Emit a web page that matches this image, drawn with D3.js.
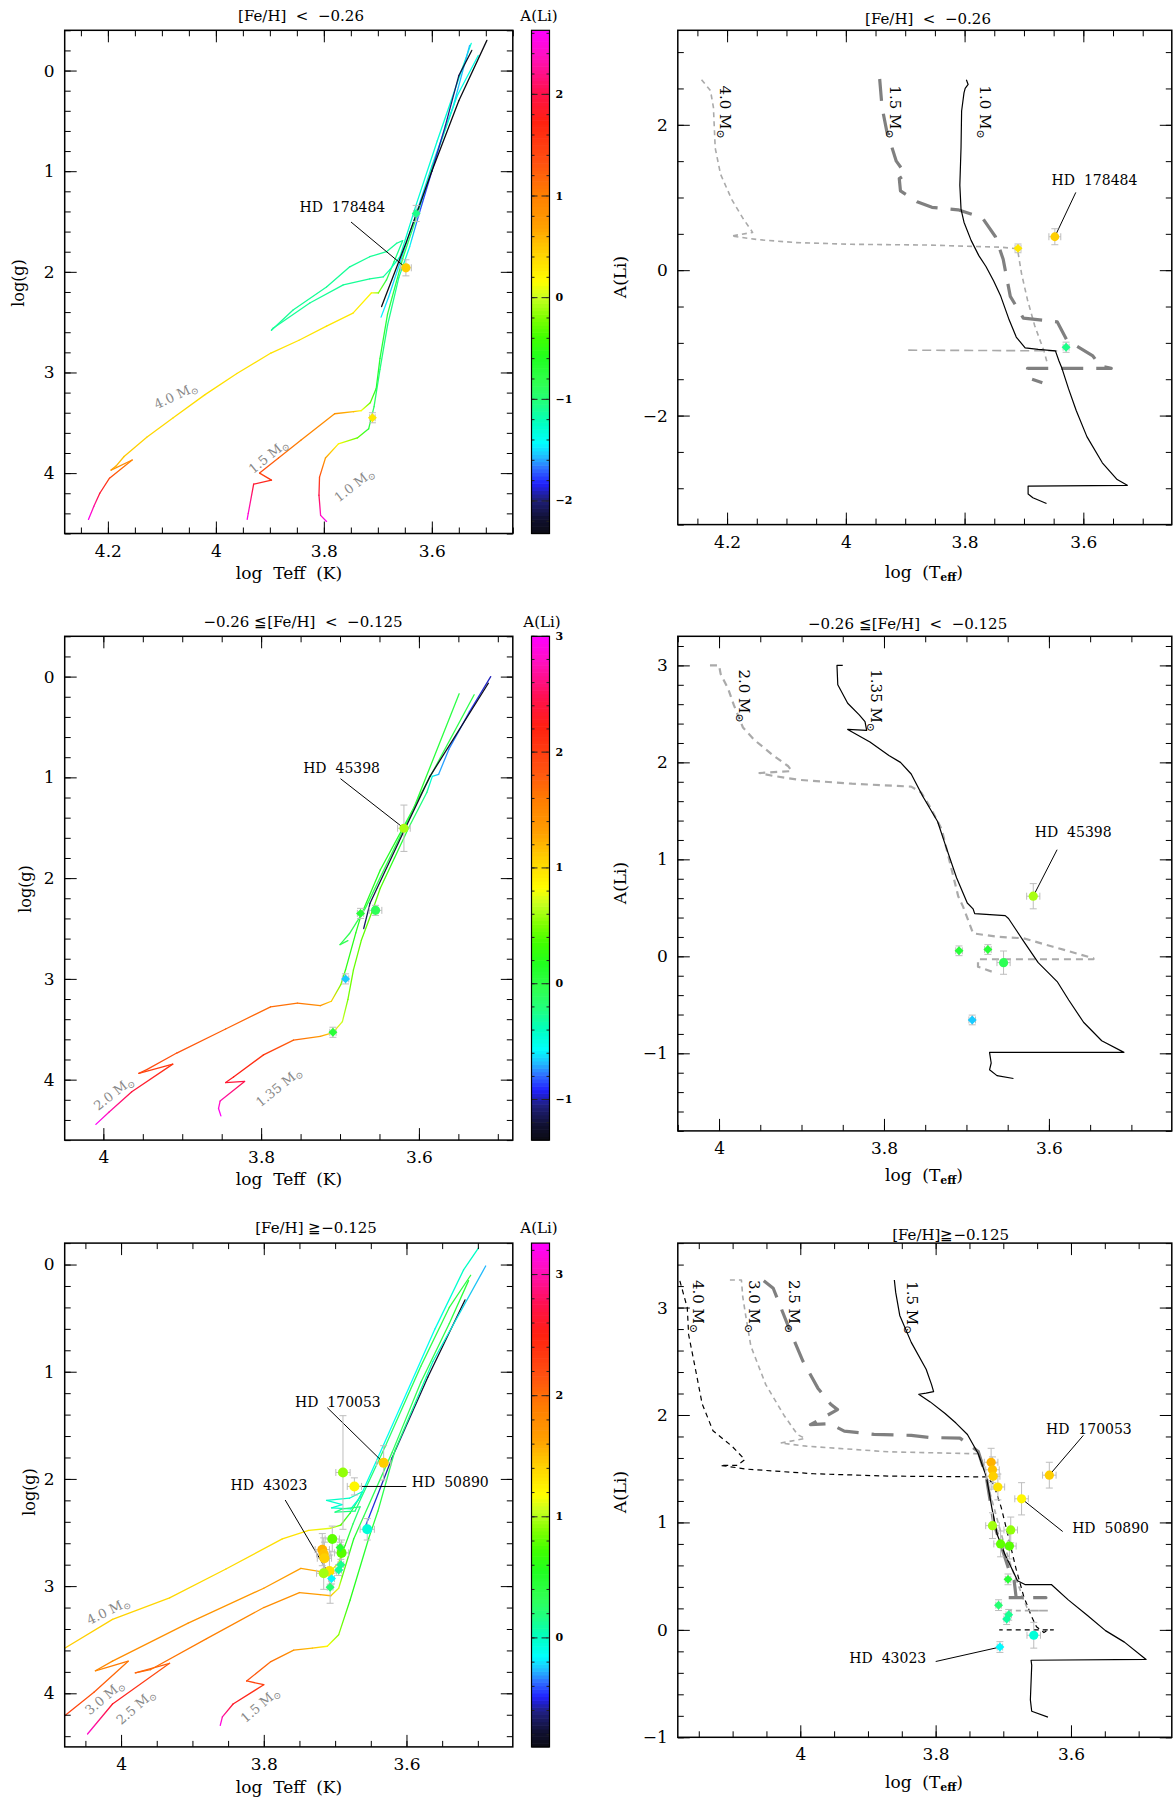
<!DOCTYPE html>
<html><head><meta charset="utf-8">
<script src="https://cdn.jsdelivr.net/npm/d3@7"></script>
<style>body{margin:0;background:#fff}svg{display:block}</style>
</head><body><svg id="fig" width="1176" height="1803"></svg>
<script>
// ---------------- data ----------------
// HR-diagram tracks: [log Teff, log g, A(Li)]
const hrLow40 = [[4.236,4.46,2.6],[4.226,4.33,2.3],[4.215,4.20,1.9],[4.197,4.05,1.4],[4.155,3.87,0.95],[4.194,3.97,0.8],[4.185,3.93,0.6],[4.170,3.835,0.5],[4.128,3.644,0.42],[4.079,3.45,0.38],[4.020,3.22,0.36],[3.961,3.01,0.35],[3.898,2.807,0.34],[3.846,2.68,0.33],[3.795,2.54,0.32],[3.746,2.41,0.30],[3.712,2.21,0.2],[3.699,2.21,-0.2],[3.684,2.08,-0.8],[3.670,1.90,-1.0],[3.654,1.69,-1.1],[3.665,1.716,-1.1],[3.684,1.80,-1.1],[3.715,1.85,-1.1],[3.752,1.95,-1.1],[3.795,2.15,-1.1],[3.857,2.38,-1.1],[3.897,2.58,-1.1],[3.894,2.56,-1.1],[3.826,2.31,-1.1],[3.764,2.13,-1.1],[3.715,2.07,-1.1],[3.690,2.05,-1.1],[3.678,1.98,-1.2],[3.659,1.85,-1.25],[3.630,1.35,-1.3],[3.590,0.70,-1.3],[3.545,0.0,-1.3],[3.527,-0.27,-1.3]];
const hrLow15 = [[3.942,4.46,2.6],[3.940,4.40,2.45],[3.930,4.11,1.9],[3.897,4.07,1.6],[3.919,4.00,1.4],[3.884,3.85,1.2],[3.842,3.67,1.0],[3.780,3.41,0.85],[3.745,3.39,0.55],[3.731,3.38,0.15],[3.714,3.30,-0.3],[3.703,3.16,-0.6],[3.696,2.86,-0.7],[3.682,2.42,-0.72],[3.654,1.87,-0.8],[3.628,1.45,-0.96],[3.599,0.95,-1.1],[3.553,0.25,-1.35],[3.514,-0.15,-1.35]];
const hrLow15He = [[3.694,2.45,-1.45],[3.680,2.25,-1.5],[3.640,1.60,-1.55],[3.600,0.95,-1.55],[3.560,0.35,-1.55],[3.530,-0.25,-1.55]];
const hrLow10 = [[3.795,4.48,2.6],[3.806,4.42,2.4],[3.809,4.22,2.0],[3.808,4.04,1.4],[3.797,3.85,0.7],[3.773,3.71,0.2],[3.738,3.65,-0.3],[3.717,3.56,-0.7],[3.707,3.34,-0.9],[3.696,2.97,-1.0],[3.682,2.53,-1.05],[3.661,2.055,-1.1],[3.641,1.75,-1.4],[3.625,1.45,-1.7],[3.600,1.0,-1.85],[3.575,0.55,-1.95],[3.550,0.05,-2.1],[3.526,-0.2,-2.5]];
const hrLow10He = [[3.693,2.345,-3.0],[3.647,1.70,-3.0],[3.600,1.00,-3.0],[3.550,0.30,-3.0],[3.498,-0.30,-3.0]];

const hrMid20 = [[4.0095,4.444,3.0],[3.993,4.323,2.75],[3.964,4.121,2.4],[3.912,3.846,2.05],[3.955,3.938,1.95],[3.945,3.90,1.9],[3.907,3.736,1.85],[3.845,3.497,1.75],[3.788,3.277,1.7],[3.754,3.240,1.65],[3.725,3.266,1.45],[3.711,3.222,1.1],[3.699,3.057,0.5],[3.693,2.91,0.25],[3.680,2.543,0.2],[3.673,2.36,0.2],[3.649,1.919,0.19],[3.606,1.295,0.1],[3.549,0.17,-0.02]];
const hrMid20He = [[3.690,2.62,-0.05],[3.700,2.66,-0.05],[3.688,2.55,-0.05],[3.668,2.30,-0.05],[3.600,1.20,-0.03],[3.530,0.18,-0.03]];
const hrMid135 = [[3.851,4.36,3.0],[3.854,4.286,2.9],[3.852,4.213,2.75],[3.821,4.018,2.45],[3.845,4.029,2.35],[3.835,3.974,2.25],[3.797,3.754,2.05],[3.759,3.607,1.75],[3.725,3.571,1.35],[3.709,3.534,1.0],[3.697,3.424,0.7],[3.690,3.204,0.5],[3.683,2.910,0.45],[3.673,2.617,0.43],[3.659,2.323,0.42],[3.649,2.10,0.39],[3.631,1.80,0.16],[3.613,1.50,-0.06],[3.590,1.15,-0.26],[3.583,0.99,-0.5],[3.575,0.97,-0.7],[3.562,0.72,-0.75],[3.536,0.35,-0.87],[3.509,0.0,-0.99]];
const hrMid135He = [[3.670,2.50,-1.10],[3.662,2.25,-1.17],[3.620,1.55,-1.25],[3.586,0.99,-1.3],[3.512,0.066,-1.3]];

const hrHigh40 = [[4.079,3.58,1.45],[4.012,3.31,1.42],[3.932,3.11,1.40],[3.853,2.84,1.38],[3.774,2.56,1.35],[3.737,2.48,1.30],[3.706,2.46,1.10],[3.692,2.43,0.80],[3.679,2.32,0.45],[3.668,2.20,0.20],[3.662,2.12,0.05],[3.680,2.18,0.0],[3.712,2.20,0.0],[3.690,2.24,-0.05],[3.705,2.27,0.0],[3.678,2.28,-0.05],[3.665,2.17,-0.05],[3.640,1.80,-0.1],[3.600,1.20,-0.15],[3.560,0.60,-0.1],[3.520,0.05,0.0],[3.499,-0.155,0.0]];
const hrHigh30 = [[4.079,4.21,2.3],[4.038,3.99,2.15],[3.990,3.70,1.95],[4.036,3.79,1.85],[4.012,3.70,1.80],[3.906,3.345,1.75],[3.800,3.02,1.70],[3.748,2.835,1.65],[3.716,2.87,1.55],[3.706,2.86,1.35],[3.695,2.78,1.0],[3.686,2.62,0.6],[3.675,2.42,0.3],[3.665,2.26,0.2],[3.690,2.28,0.18],[3.700,2.31,0.18],[3.672,2.30,0.18],[3.630,1.70,0.25],[3.580,0.95,0.35],[3.540,0.40,0.4],[3.510,0.10,0.4]];
const hrHigh25 = [[4.047,4.38,3.1],[4.012,4.10,2.6],[3.932,3.72,2.1],[3.980,3.81,2.05],[3.959,3.78,2.0],[3.880,3.49,1.9],[3.800,3.20,1.8],[3.750,3.06,1.75],[3.721,3.08,1.65],[3.706,3.09,1.5],[3.695,3.02,1.1],[3.690,2.91,0.8],[3.674,2.56,0.5],[3.660,2.35,0.35],[3.620,1.75,0.3],[3.580,1.10,0.35],[3.540,0.55,0.4],[3.513,0.15,0.45]];
const hrHigh15 = [[3.861,4.30,3.2],[3.858,4.22,3.0],[3.843,4.10,2.6],[3.800,3.92,2.3],[3.824,3.885,2.2],[3.790,3.704,2.0],[3.758,3.597,1.7],[3.732,3.579,1.5],[3.711,3.561,1.2],[3.695,3.453,0.9],[3.679,3.13,0.6],[3.653,2.556,0.45],[3.640,2.30,0.42],[3.616,1.73,0.25],[3.563,0.905,0.0],[3.489,0.014,-0.27]];
const hrHigh15He = [[3.658,2.45,-0.45],[3.620,1.80,-0.6],[3.570,1.05,-0.8],[3.518,0.33,-0.85]];

// A(Li) tracks: [log Teff, A(Li)]
const liLow40 = [[4.243,2.62],[4.228,2.47],[4.223,2.24],[4.220,1.68],[4.211,1.32],[4.192,0.97],[4.173,0.71],[4.157,0.52],[4.193,0.47],[4.148,0.42],[4.085,0.38],[3.990,0.356],[3.864,0.346],[3.738,0.316],[3.711,0.295],[3.704,-0.05],[3.694,-0.41],[3.682,-0.76],[3.666,-1.12],[3.660,-1.30]];
const liLow40Loop = [[3.644,-1.11],[3.900,-1.10]];
const liLow15 = [[3.943,2.63],[3.939,2.24],[3.931,1.91],[3.915,1.50],[3.899,1.32],[3.910,1.26],[3.908,1.09],[3.880,0.94],[3.855,0.865],[3.811,0.83],[3.770,0.72],[3.748,0.46],[3.735,0.15],[3.723,-0.36],[3.701,-0.66],[3.644,-0.71],[3.628,-0.96],[3.584,-1.18],[3.571,-1.32],[3.553,-1.35],[3.694,-1.35],[3.694,-1.48],[3.669,-1.55]];
const liLow10 = [[3.797,2.62],[3.794,2.555],[3.799,2.50],[3.801,2.44],[3.805,2.19],[3.806,1.68],[3.808,1.17],[3.806,0.84],[3.801,0.66],[3.789,0.41],[3.776,0.20],[3.764,0.05],[3.751,-0.15],[3.739,-0.36],[3.726,-0.66],[3.713,-0.92],[3.698,-1.07],[3.676,-1.09],[3.647,-1.11],[3.641,-1.25],[3.636,-1.35],[3.625,-1.63],[3.612,-1.93],[3.594,-2.29],[3.568,-2.65],[3.543,-2.88],[3.526,-2.96],[3.693,-2.97],[3.693,-3.08],[3.685,-3.13],[3.662,-3.21]];

const liMid20 = [[4.011,3.0],[4.0,3.0],[3.998,2.91],[3.989,2.76],[3.982,2.59],[3.971,2.36],[3.957,2.23],[3.934,2.07],[3.916,1.96],[3.912,1.91],[3.951,1.89],[3.934,1.86],[3.903,1.82],[3.839,1.78],[3.767,1.75],[3.755,1.69],[3.744,1.54],[3.730,1.31],[3.721,1.00],[3.710,0.62],[3.704,0.51],[3.692,0.237],[3.663,0.202],[3.631,0.186],[3.595,0.099],[3.546,-0.02],[3.546,-0.03],[3.686,-0.03],[3.686,-0.107],[3.669,-0.159]];
const liMid135 = [[3.850,3.0],[3.857,3.0],[3.856,2.80],[3.844,2.61],[3.830,2.49],[3.823,2.42],[3.821,2.33],[3.844,2.34],[3.817,2.21],[3.794,2.07],[3.780,2.00],[3.767,1.88],[3.753,1.65],[3.735,1.39],[3.726,1.16],[3.712,0.81],[3.699,0.55],[3.692,0.49],[3.690,0.44],[3.653,0.42],[3.649,0.39],[3.631,0.16],[3.613,-0.065],[3.590,-0.26],[3.576,-0.45],[3.558,-0.68],[3.536,-0.87],[3.509,-0.99],[3.672,-0.99],[3.670,-1.10],[3.672,-1.17],[3.663,-1.23],[3.643,-1.26]];

const liHigh40 = [[4.178,3.249],[4.167,2.999],[4.165,2.748],[4.156,2.462],[4.145,2.104],[4.129,1.853],[4.101,1.710],[4.082,1.585],[4.093,1.531],[4.118,1.531],[4.079,1.496],[3.980,1.453],[3.869,1.431],[3.725,1.424],[3.714,1.352],[3.703,1.138],[3.692,0.852],[3.681,0.565],[3.670,0.315],[3.659,0.136],[3.651,0.029],[3.640,-0.025],[3.634,0.0],[3.626,0.0],[3.706,0.0]];
const liHigh30 = [[4.104,3.256],[4.087,3.256],[4.085,3.10],[4.080,2.90],[4.073,2.640],[4.051,2.283],[4.024,1.996],[4.004,1.817],[3.993,1.782],[4.029,1.739],[3.991,1.710],[3.869,1.657],[3.737,1.639],[3.731,1.567],[3.720,1.281],[3.709,1.030],[3.698,0.780],[3.687,0.565],[3.676,0.386],[3.670,0.279],[3.665,0.208],[3.660,0.179],[3.634,0.179],[3.692,0.179]];
const liHigh25 = [[4.054,3.25],[4.040,3.18],[4.030,3.02],[4.013,2.75],[3.996,2.50],[3.974,2.25],[3.955,2.10],[3.945,2.05],[3.985,1.91],[3.957,1.92],[3.935,1.85],[3.891,1.82],[3.836,1.81],[3.808,1.79],[3.764,1.785],[3.737,1.66],[3.725,1.42],[3.714,0.99],[3.703,0.78],[3.692,0.565],[3.684,0.46],[3.681,0.30],[3.637,0.30],[3.692,0.30]];
const liHigh15 = [[3.861,3.256],[3.859,3.141],[3.853,2.927],[3.836,2.676],[3.814,2.426],[3.806,2.283],[3.803,2.218],[3.814,2.204],[3.825,2.193],[3.808,2.122],[3.786,2.014],[3.770,1.925],[3.753,1.818],[3.737,1.639],[3.725,1.424],[3.717,1.138],[3.709,0.887],[3.698,0.708],[3.687,0.565],[3.679,0.458],[3.668,0.422],[3.629,0.422],[3.604,0.279],[3.576,0.136],[3.549,-0.007],[3.521,-0.114],[3.489,-0.275],[3.659,-0.283],[3.658,-0.329],[3.660,-0.651],[3.658,-0.758],[3.634,-0.812]];

// stars: log Teff, log g, A(Li), errors, mark
const starsLow = [
  {name:"HD  178484", teff:3.648, logg:1.96, ali:0.46, eT:0.01, eG:0.08, eA:0.11, mark:"circle"},
  {name:"", teff:3.710, logg:3.45, ali:0.30, eT:0.005, eG:0.05, eA:0.06, mark:"diamond"},
  {name:"", teff:3.629, logg:1.42, ali:-1.06, eT:0.005, eG:0.08, eA:0.07, mark:"diamond"}
];
const starsMid = [
  {name:"HD  45398", teff:3.619, logg:1.505, ali:0.62, eT:0.008, eG:0.23, eA:0.13, mark:"circle"},
  {name:"", teff:3.674, logg:2.35, ali:0.07, eT:0.004, eG:0.05, eA:0.05, mark:"diamond"},
  {name:"", teff:3.655, logg:2.32, ali:-0.065, eT:0.008, eG:0.05, eA:0.12, mark:"circle"},
  {name:"", teff:3.693, logg:3.00, ali:-0.656, eT:0.004, eG:0.05, eA:0.05, mark:"diamond"},
  {name:"", teff:3.709, logg:3.53, ali:0.057, eT:0.004, eG:0.05, eA:0.05, mark:"diamond"}
];
const starsHigh = [
  {name:"", teff:3.718, logg:2.66, ali:1.56, eT:0.01, eG:0.15, eA:0.13, mark:"circle"},
  {name:"", teff:3.716, logg:2.70, ali:1.49, eT:0.01, eG:0.15, eA:0.12, mark:"circle"},
  {name:"", teff:3.715, logg:2.74, ali:1.43, eT:0.01, eG:0.15, eA:0.12, mark:"circle"},
  {name:"", teff:3.708, logg:2.86, ali:1.33, eT:0.01, eG:0.15, eA:0.12, mark:"circle"},
  {name:"HD  50890", teff:3.673, logg:2.07, ali:1.22, eT:0.01, eG:0.08, eA:0.15, mark:"circle"},
  {name:"HD  170053", teff:3.632, logg:1.85, ali:1.44, eT:0.01, eG:0.16, eA:0.12, mark:"circle"},
  {name:"", teff:3.716, logg:2.88, ali:0.97, eT:0.01, eG:0.15, eA:0.12, mark:"circle"},
  {name:"", teff:3.689, logg:1.94, ali:0.93, eT:0.01, eG:0.53, eA:0.12, mark:"circle"},
  {name:"", teff:3.704, logg:2.56, ali:0.80, eT:0.01, eG:0.12, eA:0.12, mark:"circle"},
  {name:"", teff:3.691, logg:2.69, ali:0.78, eT:0.01, eG:0.12, eA:0.12, mark:"circle"},
  {name:"", teff:3.693, logg:2.64, ali:0.47, eT:0.004, eG:0.05, eA:0.05, mark:"diamond"},
  {name:"", teff:3.707, logg:3.01, ali:0.23, eT:0.004, eG:0.15, eA:0.05, mark:"diamond"},
  {name:"", teff:3.692, logg:2.80, ali:0.14, eT:0.004, eG:0.05, eA:0.05, mark:"diamond"},
  {name:"", teff:3.695, logg:2.85, ali:0.10, eT:0.004, eG:0.05, eA:0.05, mark:"diamond"},
  {name:"", teff:3.655, logg:2.47, ali:-0.05, eT:0.01, eG:0.1, eA:0.12, mark:"circle"},
  {name:"HD  43023", teff:3.705, logg:2.93, ali:-0.16, eT:0.004, eG:0.05, eA:0.05, mark:"diamond"}
];

// tick labels
const ticksTeffWide = [4.2, 4, 3.8, 3.6];
const ticksTeff = [4, 3.8, 3.6];
const ticksLogg = [0, 1, 2, 3, 4];
const ticksLiLow = [-2, 0, 2];
const ticksLi = [-1, 0, 1, 2, 3];
const cbarTicksLow = [-2, -1, 0, 1, 2];
const cbarTicksMid = [-1, 0, 1, 2, 3];
const cbarTicksHigh = [0, 1, 2, 3];

// text
const titleLow = "[Fe/H]  <  \u22120.26";
const titleMid = "\u22120.26 \u2266[Fe/H]  <  \u22120.125";
const titleHighL = "[Fe/H] \u2267\u22120.125";
const titleHighR = "[Fe/H]\u2267\u22120.125";
const massLow = ["4.0", "1.5", "1.0"];
const massMid = ["2.0", "1.35"];
const massHigh = ["4.0", "3.0", "2.5", "1.5"];

// ---------------- drawing ----------------
const FONT = "'DejaVu Serif', 'Liberation Serif', serif";
const svg = d3.select("#fig");
const defs = svg.append("defs");
svg.append("rect").attr("width", 1176).attr("height", 1803).attr("fill", "#fff");

// rainbow colour map used by the colour bars (position 0..1 along the bar)
const cmapPos = [0, 0.03, 0.07, 0.10, 0.13, 0.155, 0.18, 0.22, 0.26, 0.30, 0.35, 0.39, 0.43, 0.47, 0.50, 0.56, 0.61, 0.67, 0.74, 0.82, 0.88, 0.95, 1];
const cmapCol = ["#0c0c14", "#101030", "#202080", "#2020ff", "#3070ff", "#20c0ff", "#00ffff", "#00ffc0", "#20ff80", "#30ff50", "#20ff20", "#40ff00", "#80ff00", "#c8ff20", "#ffff00", "#ffd000", "#ffa000", "#ff8000", "#ff5010", "#ff2010", "#ff1050", "#ff10c0", "#ff00ff"];
const cmap = d3.scaleLinear().domain(cmapPos).range(cmapCol).clamp(true);
const colorFor = dom => v => cmap((v - dom[0]) / (dom[1] - dom[0]));

const P = {
  hrLow:  {f:{x0:64.7, x1:512.8, y0:30.3, y1:533.5},   tDom:[4.28, 3.45],  yDom:[-0.4, 4.6], cDom:[-2.32, 2.63]},
  liLow:  {f:{x0:677.8, x1:1171.8, y0:30.3, y1:524.6}, tDom:[4.283, 3.451], yDom:[3.3, -3.5]},
  hrMid:  {f:{x0:64.7, x1:512.8, y0:636.3, y1:1140.1}, tDom:[4.049, 3.481], yDom:[-0.4, 4.6], cDom:[-1.35, 3.0]},
  liMid:  {f:{x0:677.8, x1:1171.8, y0:636.3, y1:1130.9}, tDom:[4.05, 3.451], yDom:[3.3, -1.8]},
  hrHigh: {f:{x0:64.7, x1:512.8, y0:1243.1, y1:1746.9}, tDom:[4.079, 3.451], yDom:[-0.2, 4.5], cDom:[-0.9, 3.26]},
  liHigh: {f:{x0:677.8, x1:1171.8, y0:1243.1, y1:1737.3}, tDom:[4.181, 3.451], yDom:[3.6, -1.0]}
};
Object.entries(P).forEach(([k, p]) => {
  p.key = k;
  p.x = d3.scaleLinear().domain(p.tDom).range([p.f.x0, p.f.x1]);
  p.y = d3.scaleLinear().domain(p.yDom).range([p.f.y0, p.f.y1]);
  defs.append("clipPath").attr("id", "clip-" + k).append("rect")
    .attr("x", p.f.x0).attr("y", p.f.y0).attr("width", p.f.x1 - p.f.x0).attr("height", p.f.y1 - p.f.y0);
});

function stepTicks(lo, hi, step) {
  const a = Math.min(lo, hi), b = Math.max(lo, hi);
  const k0 = Math.ceil(a / step - 1e-6), k1 = Math.floor(b / step + 1e-6);
  return d3.range(k0, k1 + 1).map(k => +(k * step).toFixed(4));
}

function axesFrame(p, xMaj, xStep, yMaj, yStep) {
  const g = svg.append("g"), f = p.f, fmt = d3.format("~g");
  const xMin = stepTicks(p.tDom[0], p.tDom[1], xStep), yMin = stepTicks(p.yDom[0], p.yDom[1], yStep);
  const put = (axis, tx, ty) => g.append("g").attr("transform", `translate(${tx},${ty})`).call(axis);
  put(d3.axisBottom(p.x).tickValues(xMin).tickSize(-6).tickFormat(""), 0, f.y1);
  put(d3.axisTop(p.x).tickValues(xMin).tickSize(-6).tickFormat(""), 0, f.y0);
  put(d3.axisBottom(p.x).tickValues(xMaj).tickSize(-12).tickPadding(11).tickFormat(fmt), 0, f.y1);
  put(d3.axisTop(p.x).tickValues(xMaj).tickSize(-12).tickFormat(""), 0, f.y0);
  put(d3.axisLeft(p.y).tickValues(yMin).tickSize(-6).tickFormat(""), f.x0, 0);
  put(d3.axisRight(p.y).tickValues(yMin).tickSize(-6).tickFormat(""), f.x1, 0);
  put(d3.axisLeft(p.y).tickValues(yMaj).tickSize(-12).tickPadding(10).tickFormat(fmt), f.x0, 0);
  put(d3.axisRight(p.y).tickValues(yMaj).tickSize(-12).tickFormat(""), f.x1, 0);
  g.selectAll(".domain").remove();
  g.selectAll(".tick line").attr("stroke", "#000").attr("stroke-width", 1);
  g.selectAll(".tick text").attr("font-family", FONT).attr("font-size", 17).attr("fill", "#000");
  g.append("rect").attr("x", f.x0).attr("y", f.y0).attr("width", f.x1 - f.x0).attr("height", f.y1 - f.y0)
    .attr("fill", "none").attr("stroke", "#000").attr("stroke-width", 1.5);
}

function text(str, x, y, opt = {}) {
  const t = svg.append("text").attr("x", x).attr("y", y).attr("font-family", FONT)
    .attr("font-size", opt.size || 15).attr("fill", opt.fill || "#000")
    .attr("text-anchor", "middle").attr("dominant-baseline", "central")
    .attr("xml:space", "preserve").style("white-space", "pre").text(str);
  if (opt.rot !== undefined) t.attr("transform", `rotate(${opt.rot},${x},${y})`);
  return t;
}

function massLabel(m, x, y, rot, fill, size) {
  const t = text("", x, y, {rot, fill, size});
  t.append("tspan").text(m + " M");
  t.append("tspan").attr("font-size", size * 0.72).attr("dy", size * 0.3).text("\u2299");
}

function tempLabel(x, y) {
  const t = text("log  (T", x, y, {size: 17});
  t.append("tspan").attr("font-size", 11).attr("font-weight", "bold").attr("dy", 5).text("eff");
  t.append("tspan").attr("dy", -5).text(")");
}

function colorbar(p, ticks) {
  const f = p.f, x0 = 531.5, x1 = 549.5;
  const yc = d3.scaleLinear().domain(p.cDom).range([f.y1, f.y0]);
  const col = colorFor(p.cDom);
  const n = 140, st = (p.cDom[1] - p.cDom[0]) / n;
  const g = svg.append("g");
  g.selectAll("rect.s").data(d3.range(n)).join("rect").attr("class", "s")
    .attr("x", x0).attr("width", x1 - x0)
    .attr("y", i => yc(p.cDom[0] + (i + 1) * st)).attr("height", i => yc(p.cDom[0] + i * st) - yc(p.cDom[0] + (i + 1) * st) + 0.6)
    .attr("fill", i => col(p.cDom[0] + (i + 0.5) * st));
  stepTicks(p.cDom[0], p.cDom[1], 0.2).forEach(v => {
    g.append("line").attr("x1", x0).attr("x2", x0 + 3).attr("y1", yc(v)).attr("y2", yc(v)).attr("stroke", "#222").attr("stroke-width", 1);
    g.append("line").attr("x1", x1 - 3).attr("x2", x1).attr("y1", yc(v)).attr("y2", yc(v)).attr("stroke", "#222").attr("stroke-width", 1);
  });
  ticks.forEach(v => {
    g.append("line").attr("x1", x0).attr("x2", x1).attr("y1", yc(v)).attr("y2", yc(v))
      .attr("stroke", "#222").attr("stroke-width", 1).attr("stroke-dasharray", "6,4");
    g.append("text").attr("x", x1 + 6).attr("y", yc(v)).attr("dominant-baseline", "central")
      .attr("font-family", FONT).attr("font-size", 11).attr("font-weight", "bold").text(d3.format("~g")(v));
  });
  g.append("rect").attr("x", x0).attr("y", f.y0).attr("width", x1 - x0).attr("height", f.y1 - f.y0)
    .attr("fill", "none").attr("stroke", "#000").attr("stroke-width", 1.2);
}

// HR tracks: each segment shaded from the A(Li) at its start to the A(Li) at its end
let gradN = 0;
function hrTrack(p, pts) {
  const col = colorFor(p.cDom);
  const g = svg.append("g").attr("clip-path", `url(#clip-${p.key})`);
  d3.pairs(pts).forEach(([a, b]) => {
    const id = "gr" + (gradN++);
    const lg = defs.append("linearGradient").attr("id", id).attr("gradientUnits", "userSpaceOnUse")
      .attr("x1", p.x(a[0])).attr("y1", p.y(a[1])).attr("x2", p.x(b[0])).attr("y2", p.y(b[1]));
    lg.append("stop").attr("offset", 0).attr("stop-color", col(a[2]));
    lg.append("stop").attr("offset", 1).attr("stop-color", col(b[2]));
    g.append("line").attr("x1", p.x(a[0])).attr("y1", p.y(a[1])).attr("x2", p.x(b[0])).attr("y2", p.y(b[1]))
      .attr("stroke", `url(#${id})`).attr("stroke-width", 1.3).attr("stroke-linecap", "round");
  });
}

function liTrack(p, pts, style) {
  const line = d3.line().x(d => p.x(d[0])).y(d => p.y(d[1]));
  svg.append("path").attr("clip-path", `url(#clip-${p.key})`).attr("d", line(pts)).attr("fill", "none")
    .attr("stroke", style.c).attr("stroke-width", style.w).attr("stroke-dasharray", style.dash || null)
    .attr("stroke-linejoin", "round");
}

function stars(p, list, yKey, eKey, cDom, rad) {
  const col = colorFor(cDom);
  const g = svg.append("g");
  const eb = g.append("g").attr("stroke", "#bdbdbd").attr("stroke-width", 1);
  list.forEach(s => {
    const cx = p.x(s.teff), cy = p.y(s[yKey]);
    const xa = p.x(s.teff + s.eT), xb = p.x(s.teff - s.eT);
    const ya = p.y(s[yKey] - s[eKey]), yb = p.y(s[yKey] + s[eKey]);
    eb.append("line").attr("x1", xa).attr("x2", xb).attr("y1", cy).attr("y2", cy);
    eb.append("line").attr("x1", xa).attr("x2", xa).attr("y1", cy - 3.5).attr("y2", cy + 3.5);
    eb.append("line").attr("x1", xb).attr("x2", xb).attr("y1", cy - 3.5).attr("y2", cy + 3.5);
    eb.append("line").attr("x1", cx).attr("x2", cx).attr("y1", ya).attr("y2", yb);
    eb.append("line").attr("x1", cx - 3.5).attr("x2", cx + 3.5).attr("y1", ya).attr("y2", ya);
    eb.append("line").attr("x1", cx - 3.5).attr("x2", cx + 3.5).attr("y1", yb).attr("y2", yb);
  });
  list.forEach(s => {
    const cx = p.x(s.teff), cy = p.y(s[yKey]);
    if (s.mark === "circle") {
      g.append("circle").attr("cx", cx).attr("cy", cy).attr("r", rad).attr("fill", col(s.ali));
    } else {
      g.append("path").attr("d", d3.symbol(d3.symbolSquare, 40)())
        .attr("transform", `translate(${cx},${cy}) rotate(45)`).attr("fill", col(s.ali));
    }
  });
}

function note(p, list, yKey, name, tx, ty, lx, ly) {
  const s = list.find(d => d.name === name);
  svg.append("line").attr("x1", lx).attr("y1", ly).attr("x2", p.x(s.teff)).attr("y2", p.y(s[yKey]))
    .attr("stroke", "#000").attr("stroke-width", 1);
  text(name, tx, ty, {size: 14});
}

// ---- [Fe/H] < -0.26 ----
{
  const p = P.hrLow;
  [hrLow40, hrLow15He, hrLow15, hrLow10, hrLow10He].forEach(t => hrTrack(p, t));
  note(p, starsLow, "logg", "HD  178484", 342.4, 207.2, 351, 222);
  stars(p, starsLow, "logg", "eG", p.cDom, 4.6);
  axesFrame(p, ticksTeffWide, 0.05, ticksLogg, 0.2);
  colorbar(p, cbarTicksLow);
  massLabel(massLow[0], 175.5, 395, -25, "#888", 13);
  massLabel(massLow[1], 267.9, 455.8, -39, "#888", 13);
  massLabel(massLow[2], 353.7, 484.6, -38, "#888", 13);
  text(titleLow, 301, 15.5, {size: 15});
  text("A(Li)", 539, 15.5, {size: 15});
  text("log(g)", 18, 283, {size: 16, rot: -90});
  text("log  Teff  (K)", 289, 573, {size: 17});
}
{
  const p = P.liLow;
  liTrack(p, liLow40, {c: "#aaa", w: 1.6, dash: "5,4"});
  liTrack(p, liLow40Loop, {c: "#aaa", w: 1.6, dash: "9,5"});
  liTrack(p, liLow15, {c: "#808080", w: 3.2, dash: "22,13"});
  liTrack(p, liLow10, {c: "#000", w: 1.2});
  note(p, starsLow, "ali", "HD  178484", 1094.5, 180.2, 1075.8, 192.4);
  stars(p, starsLow, "ali", "eA", P.hrLow.cDom, 4.4);
  axesFrame(p, ticksTeffWide, 0.05, ticksLiLow, 0.5);
  massLabel(massLow[0], 725.3, 112, 90, "#000", 15);
  massLabel(massLow[1], 894.6, 112, 90, "#000", 15);
  massLabel(massLow[2], 985.4, 112, 90, "#000", 15);
  text(titleLow, 928, 19, {size: 15});
  text("A(Li)", 620, 277, {size: 17, rot: -90});
  tempLabel(924, 571.5);
}

// ---- -0.26 <= [Fe/H] < -0.125 ----
{
  const p = P.hrMid;
  [hrMid20, hrMid20He, hrMid135, hrMid135He].forEach(t => hrTrack(p, t));
  note(p, starsMid, "logg", "HD  45398", 341.6, 767.6, 340.5, 778.7);
  stars(p, starsMid, "logg", "eG", p.cDom, 4.6);
  axesFrame(p, ticksTeff, 0.05, ticksLogg, 0.2);
  colorbar(p, cbarTicksMid);
  massLabel(massMid[0], 113.2, 1092.8, -38, "#888", 13);
  massLabel(massMid[1], 278.4, 1086.5, -39, "#888", 13);
  text(titleMid, 303, 621.5, {size: 15});
  text("A(Li)", 542, 621.5, {size: 15});
  text("log(g)", 25, 889, {size: 16, rot: -90});
  text("log  Teff  (K)", 289, 1179, {size: 17});
}
{
  const p = P.liMid;
  liTrack(p, liMid20, {c: "#aaa", w: 2.2, dash: "7,5"});
  liTrack(p, liMid135, {c: "#000", w: 1.2});
  note(p, starsMid, "ali", "HD  45398", 1073.2, 832.3, 1057.1, 849.7);
  stars(p, starsMid, "ali", "eA", P.hrMid.cDom, 4.6);
  axesFrame(p, ticksTeff, 0.05, ticksLi, 0.2);
  massLabel(massMid[0], 744, 696, 90, "#000", 15);
  massLabel(massMid[1], 875.9, 700.6, 90, "#000", 15);
  text(titleMid, 907.6, 624, {size: 15});
  text("A(Li)", 620, 883, {size: 17, rot: -90});
  tempLabel(924, 1175);
}

// ---- [Fe/H] >= -0.125 ----
{
  const p = P.hrHigh;
  [hrHigh40, hrHigh30, hrHigh25, hrHigh15He, hrHigh15].forEach(t => hrTrack(p, t));
  note(p, starsHigh, "logg", "HD  170053", 337.9, 1401.5, 327.3, 1407.7);
  note(p, starsHigh, "logg", "HD  50890", 450.3, 1481.9, 406.3, 1486.5);
  note(p, starsHigh, "logg", "HD  43023", 269, 1484.6, 285.2, 1500);
  stars(p, starsHigh, "logg", "eG", p.cDom, 5);
  axesFrame(p, ticksTeff, 0.05, ticksLogg, 0.2);
  colorbar(p, cbarTicksHigh);
  massLabel(massHigh[0], 108, 1610.4, -26, "#888", 13);
  massLabel(massHigh[1], 104.2, 1696.9, -40, "#888", 13);
  massLabel(massHigh[2], 135.4, 1706.5, -41, "#888", 13);
  massLabel(massHigh[3], 259.6, 1704.6, -41, "#888", 13);
  text(titleHighL, 316, 1227.7, {size: 15});
  text("A(Li)", 539, 1227.7, {size: 15});
  text("log(g)", 29, 1492, {size: 16, rot: -90});
  text("log  Teff  (K)", 289, 1787, {size: 17});
}
{
  const p = P.liHigh;
  liTrack(p, liHigh40, {c: "#000", w: 1.2, dash: "5,4"});
  liTrack(p, liHigh30, {c: "#aaa", w: 1.6, dash: "5,4"});
  liTrack(p, liHigh25, {c: "#808080", w: 3.2, dash: "22,13"});
  liTrack(p, liHigh15, {c: "#000", w: 1.2});
  note(p, starsHigh, "ali", "HD  170053", 1088.9, 1428.8, 1083.3, 1435.4);
  note(p, starsHigh, "ali", "HD  50890", 1110.6, 1527.7, 1062.7, 1531.5);
  note(p, starsHigh, "ali", "HD  43023", 887.8, 1657.7, 935.7, 1661.5);
  stars(p, starsHigh, "ali", "eA", P.hrHigh.cDom, 4.6);
  axesFrame(p, ticksTeff, 0.05, ticksLi, 0.2);
  massLabel(massHigh[0], 698.4, 1306.5, 90, "#000", 15);
  massLabel(massHigh[1], 753.7, 1306.5, 90, "#000", 15);
  massLabel(massHigh[2], 793.7, 1306.5, 90, "#000", 15);
  massLabel(massHigh[3], 912.1, 1307.7, 90, "#000", 15);
  text(titleHighR, 950.6, 1234.6, {size: 15});
  text("A(Li)", 620, 1492, {size: 17, rot: -90});
  tempLabel(924, 1782);
}
</script></body></html>
